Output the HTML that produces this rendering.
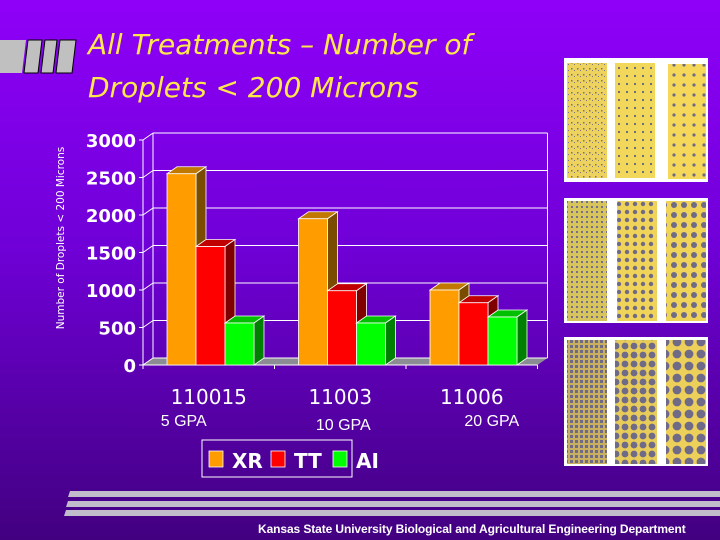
<!DOCTYPE html>
<html><head><meta charset="utf-8"><style>
html,body{margin:0;padding:0}
body{width:720px;height:540px;overflow:hidden;background:linear-gradient(#8f00f8,#7000d8 45%,#4a0090 90%,#420080);position:relative;font-family:"Liberation Sans",sans-serif}
.t{position:absolute;color:#ffe84a;font-style:italic;font-size:28px;line-height:43px;left:88px;top:23px;font-family:"DejaVu Sans","Liberation Sans",sans-serif}
</style></head><body>
<svg width="720" height="540" style="position:absolute;left:0;top:0">
<defs>
<pattern id="p1" width="6" height="6" patternUnits="userSpaceOnUse"><rect width="6" height="6" fill="#eed25e"/><rect x="1" y="2" width="1.5" height="1.5" fill="#7b7480"/><rect x="4" y="4" width="1" height="1" fill="#7b7480"/></pattern>
<pattern id="p2" width="8" height="8" patternUnits="userSpaceOnUse"><rect width="8" height="8" fill="#f2d85a"/><rect x="2" y="3" width="2" height="2" fill="#6e6a80"/></pattern>
<pattern id="p3" width="10" height="10" patternUnits="userSpaceOnUse"><rect width="10" height="10" fill="#f5d85a"/><circle cx="4" cy="5" r="1.6" fill="#6e6a88"/></pattern>
<pattern id="p4" width="5" height="5" patternUnits="userSpaceOnUse"><rect width="5" height="5" fill="#d8c45c"/><rect x="1" y="1" width="2" height="2" fill="#77708a"/></pattern>
<pattern id="p5" width="8" height="8" patternUnits="userSpaceOnUse"><rect width="8" height="8" fill="#f0d45a"/><circle cx="3" cy="4" r="2.2" fill="#6e6a88"/></pattern>
<pattern id="p6" width="10" height="10" patternUnits="userSpaceOnUse"><rect width="10" height="10" fill="#f0d45a"/><circle cx="4" cy="5" r="3" fill="#6e6a88"/></pattern>
<pattern id="p7" width="5" height="5" patternUnits="userSpaceOnUse"><rect width="5" height="5" fill="#c8b060"/><rect x="0" y="0" width="3" height="3" fill="#6e6a88"/></pattern>
<pattern id="p8" width="9" height="9" patternUnits="userSpaceOnUse"><rect width="9" height="9" fill="#e8cc5a"/><circle cx="4" cy="4" r="3.4" fill="#6e6a88"/></pattern>
<pattern id="p9" width="12" height="12" patternUnits="userSpaceOnUse"><rect width="12" height="12" fill="#ecd05a"/><circle cx="5" cy="6" r="4.4" fill="#6e6a88"/></pattern>
</defs>
<g>
<polygon points="0,40 26,40 22,73 0,73" fill="#c0c0c0"/>
<polygon points="28,40 42,40 38,73 24,73" fill="#c0c0c0" stroke="#000" stroke-width="1"/>
<polygon points="45,40 57,40 53,73 41,73" fill="#c0c0c0" stroke="#000" stroke-width="1"/>
<polygon points="60,40 76,40 72,73 56,73" fill="#c0c0c0" stroke="#000" stroke-width="1"/>
</g>
<g>
<rect x="564" y="58" width="144" height="124" fill="#fff"/>
<rect x="567" y="63" width="40" height="115" fill="url(#p1)"/><rect x="615" y="63" width="40" height="115" fill="url(#p2)"/><rect x="668" y="64" width="38" height="115" fill="url(#p3)"/>
<rect x="564" y="198" width="144" height="125" fill="#fff"/>
<rect x="567" y="201" width="40" height="120" fill="url(#p4)"/><rect x="617" y="201" width="40" height="120" fill="url(#p5)"/><rect x="666" y="201" width="40" height="120" fill="url(#p6)"/>
<rect x="564" y="337" width="144" height="129" fill="#fff"/>
<rect x="567" y="340" width="40" height="124" fill="url(#p7)"/><rect x="615" y="340" width="42" height="124" fill="url(#p8)"/><rect x="666" y="340" width="40" height="124" fill="url(#p9)"/>
</g>
<g fill="#c0bccc">
<polygon points="70,491 720,491 720,497 68,497"/>
<polygon points="68,501 720,501 720,507 66,507"/>
<polygon points="66,510 720,510 720,516 64,516"/>
</g>
<g id="chart"></g>
</svg>
<div class="t">All Treatments – Number of<br>Droplets &lt; 200 Microns</div>
<div style="position:absolute;left:258px;top:522px;color:#fff;font-size:12px;font-weight:bold;letter-spacing:-0.1px">Kansas State University Biological and Agricultural Engineering Department</div>
<script>
const categories=["110015","11003","11006"];
const subLabels=["5 GPA","10 GPA","20 GPA"];
const seriesNames=["XR","TT","AI"];
const xr=[2550,1950,1000];
const tt=[1580,990,830];
const ai=[560,560,640];
const yTicks=[0,500,1000,1500,2000,2500,3000];
const NS="http://www.w3.org/2000/svg";
const g=document.getElementById('chart');
const x0=143,y0=365,catW=131.5,dx=10,dy=7,yMax=3000,plotH=225;
function Y(v){return y0-v/yMax*plotH;}
function el(t,a,p){const e=document.createElementNS(NS,t);for(const k in a)e.setAttribute(k,a[k]);(p||g).appendChild(e);return e;}
const floor=el('polygon',{points:`${x0},${y0} ${x0+catW*3},${y0} ${x0+catW*3+dx},${y0-dy} ${x0+dx},${y0-dy}`,fill:'#8c8c94'});


yTicks.forEach(v=>{
 const y=Y(v)-dy;
 const l=el('line',{x1:x0+dx,y1:y,x2:x0+catW*3+dx,y2:y,stroke:'#fff','stroke-width':1});
 
 
 el('line',{x1:x0,y1:Y(v),x2:x0+dx,y2:y,stroke:'#fff','stroke-width':1});
 el('line',{x1:x0-4,y1:Y(v),x2:x0,y2:Y(v),stroke:'#fff','stroke-width':1});
 const t=el('text',{x:x0-7,y:Y(v)+7,'text-anchor':'end',fill:'#fff','font-size':18,'font-weight':'bold','font-family':'DejaVu Sans, sans-serif'});
 t.textContent=v;
 
 
});
el('line',{x1:x0+dx,y1:Y(yMax)-dy,x2:x0+dx,y2:y0-dy,stroke:'#fff'});
el('line',{x1:x0+catW*3+dx,y1:Y(yMax)-dy,x2:x0+catW*3+dx,y2:y0-dy,stroke:'#fff'});
el('line',{x1:x0,y1:Y(yMax),x2:x0,y2:y0,stroke:'#fff'});
el('line',{x1:x0,y1:y0,x2:x0+catW*3,y2:y0,stroke:'#fff'});
for(let i=0;i<=3;i++)el('line',{x1:x0+catW*i,y1:y0,x2:x0+catW*i,y2:y0+4,stroke:'#fff'});
const series=[xr,tt,ai];
const cols=[["#ff9c00","#c07800","#7a4c00"],["#ff0000","#c00000","#800000"],["#00ff00","#00c000","#008000"]];
const bw=29;
categories.forEach((c,i)=>{
 series.forEach((s,j)=>{
  const bx=x0+catW*i+24+j*bw, by=Y(s[i]);
  el('polygon',{points:`${bx},${by} ${bx+bw},${by} ${bx+bw+dx},${by-dy} ${bx+dx},${by-dy}`,fill:cols[j][1],stroke:'#fff','stroke-width':0.8});
  el('polygon',{points:`${bx+bw},${by} ${bx+bw+dx},${by-dy} ${bx+bw+dx},${y0-dy} ${bx+bw},${y0}`,fill:cols[j][2],stroke:'#fff','stroke-width':0.8});
  const r=el('rect',{x:bx,y:by,width:bw,height:y0-by,fill:cols[j][0],stroke:'#fff','stroke-width':0.8});
  
  
 });
 const t=el('text',{x:x0+catW*i+catW/2,y:404,'text-anchor':'middle',fill:'#fff','font-size':20,'font-family':'DejaVu Sans, sans-serif'});
 t.textContent=c;
 
 
 const s2=el('text',{x:x0+catW*i+catW/2+(i==0?-25:i==1?3:20),y:430-(i==1?0:4),'text-anchor':'middle',fill:'#fff','font-size':16});
 s2.textContent=subLabels[i];
 
 
});
const yt=el('text',{x:0,y:0,transform:'translate(64,238) rotate(-90)','text-anchor':'middle',fill:'#fff','font-size':10.5,'font-family':'DejaVu Sans, sans-serif'});
yt.textContent='Number of Droplets < 200 Microns';


const lg=el('g',{});


el('rect',{x:202,y:440,width:150,height:37,fill:'none',stroke:'#fff'},lg);
seriesNames.forEach((n,j)=>{
 const lx=209+j*62;
 el('rect',{x:lx,y:451,width:14,height:16,fill:cols[j][0],stroke:'#fff','stroke-width':0.8},lg);
 const t=el('text',{x:lx+23,y:468,fill:'#fff','font-size':20,'font-weight':'bold','font-family':'DejaVu Sans, sans-serif'},lg);
 t.textContent=n;
 
 
});
</script>
</body></html>
